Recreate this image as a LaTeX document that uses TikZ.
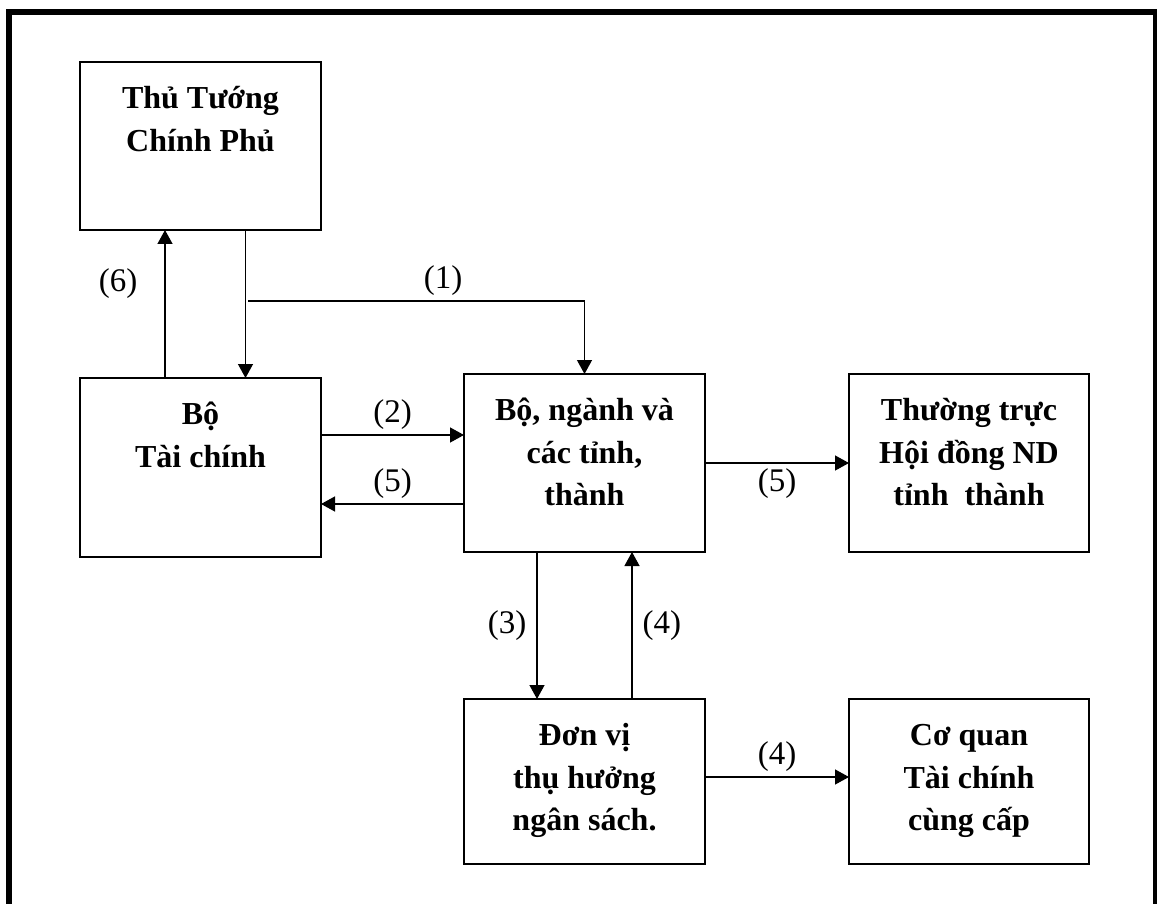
\documentclass[tikz,border=0pt]{standalone}
\usepackage{fontspec}
\setmainfont{Liberation Serif}
\usetikzlibrary{arrows.meta,positioning}

\tikzset{
  box/.style={draw, line width=1.3pt, minimum width=241pt, outer sep=0pt, inner sep=0pt},
  boxtext/.style={align=center, inner sep=0pt, outer sep=0pt, font=\fontsize{32}{42.5}\selectfont\bfseries},
  lbl/.style={inner sep=5pt, font=\fontsize{33}{40}\selectfont}
}

\begin{document}
\begin{tikzpicture}[x=1pt,y=-1pt,>={Triangle[length=14pt,width=15pt]},line width=1.3pt]
\useasboundingbox (0,0) rectangle (1157,904);
\draw[line width=6pt] (8.7,904) -- (8.7,11.7) -- (1156,11.7) -- (1156,904);

% boxes
\node[box,minimum height=168pt] (ttg) at (200.5,146) {};
\node[box,minimum height=179pt] (btc) [below=148pt of ttg] {};
\node[box,minimum height=178pt] (bnt) [right=143pt of btc,yshift=4.5pt] {};
\node[box,minimum height=178pt,minimum width=240pt] (ttr) [right=144pt of bnt] {};
\node[box,minimum height=165pt] (dvt) [below=147pt of bnt] {};
\node[box,minimum height=165pt,minimum width=240pt] (cqt) [right=144pt of dvt] {};

% texts
\node[boxtext] (ttg-t) [below=17pt of ttg.north] {\strut Thủ Tướng\\Chính Phủ};
\node[boxtext] (btc-t) [below=17pt of btc.north] {\strut Bộ\\Tài chính};
\node[boxtext] (bnt-t) [below=17pt of bnt.north] {\strut Bộ, ngành và\\các tỉnh,\\thành};
\node[boxtext] (ttr-t) [below=17pt of ttr.north] {\strut Thường trực\\Hội đồng ND\\tỉnh~~thành};
\node[boxtext] (dvt-t) [below=17pt of dvt.north] {\strut Đơn vị\\thụ hưởng\\ngân sách.};
\node[boxtext] (cqt-t) [below=17pt of cqt.north] {\strut Cơ quan\\Tài chính\\cùng cấp};

% connectors
\coordinate (split) at (248,301);
\draw[->] ([xshift=-35.5pt]btc.north) -- ([xshift=-35.5pt]ttg.south) node[lbl,pos=0.64,left=22pt] {(6)};
\draw[->] ([xshift=45pt]ttg.south) -- ([xshift=45pt]btc.north);
\draw[->] (split) -| (bnt.north) node[lbl,pos=0.29,above] {(1)};
\draw[->] ([yshift=32.5pt]btc.east) -- ([yshift=32.5pt]btc.east -| bnt.west) node[lbl,midway,above] {(2)};
\draw[->] ([yshift=-41pt]bnt.west) -- ([yshift=-41pt]bnt.west -| btc.east) node[lbl,midway,above] {(5)};
\draw[->] (bnt.east) -- (ttr.west) node[lbl,midway,below] {(5)};
\draw[->] ([xshift=-47.5pt]bnt.south) -- ([xshift=-47.5pt]bnt.south |- dvt.north) node[lbl,midway,left=5pt] {(3)};
\draw[->] ([xshift=47.5pt]dvt.north) -- ([xshift=47.5pt]dvt.north |- bnt.south) node[lbl,midway,right=5pt] {(4)};
\draw[->] ([yshift=4.5pt]dvt.east) -- ([yshift=4.5pt]dvt.east -| cqt.west) node[lbl,midway,above] {(4)};
\end{tikzpicture}
\end{document}
